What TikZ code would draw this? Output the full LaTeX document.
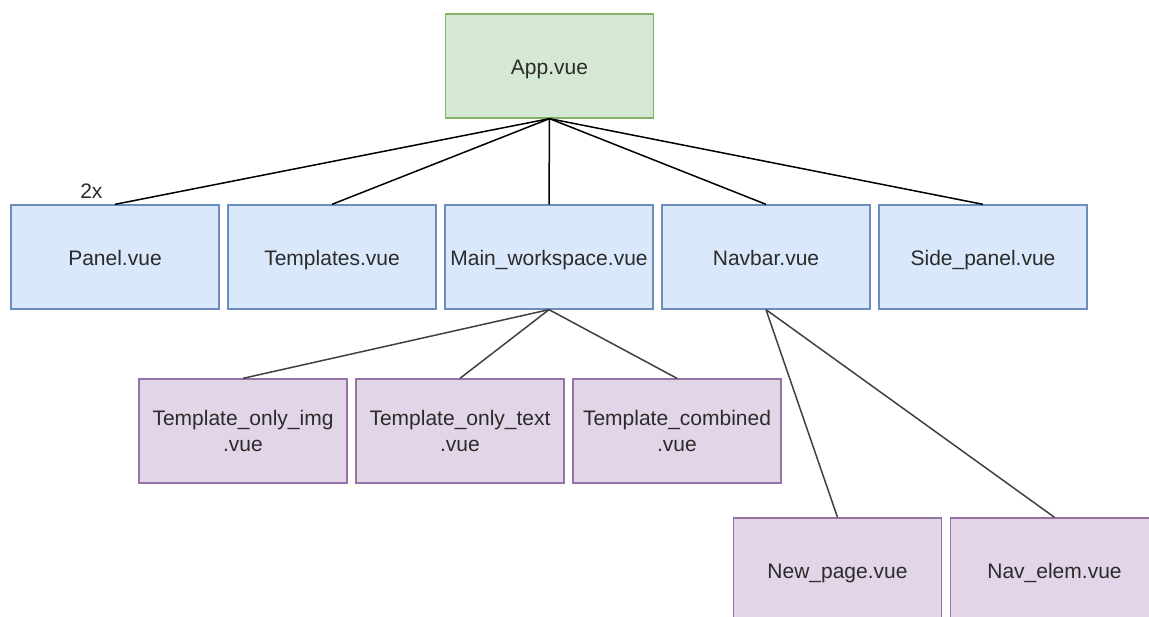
\documentclass[tikz,border=0pt]{standalone}
\usepackage{fontspec}
\setmainfont{Liberation Sans}
\usetikzlibrary{positioning}
\usepackage{xcolor}
\definecolor{appfill}{HTML}{D5E8D4}
\definecolor{appline}{HTML}{82B366}
\definecolor{compfill}{HTML}{DAE8FC}
\definecolor{compline}{HTML}{6C8EBF}
\definecolor{subfill}{HTML}{E1D5E7}
\definecolor{subline}{HTML}{9673A6}
\definecolor{txt}{HTML}{2B2B2B}

\begin{document}
\begin{tikzpicture}[x=1pt, y=-1pt, node distance=217pt,
    box/.style={draw, line width=1.3pt, minimum width=208pt, minimum height=104pt,
        align=center, text=txt, font=\fontsize{21}{26}\selectfont},
    oneline/.style={text height=17pt, text depth=0pt},
    link/.style={line width=1.5pt}]
    \useasboundingbox (0,0) rectangle (1149,617);
    \clip (0,0) rectangle (1149,617);

    \node[box, oneline, fill=appfill, draw=appline] (app) at (549.5,66) {App.vue};

    \node[box, oneline, fill=compfill, draw=compline] (panel) at (115,257) {Panel.vue};
    \node[box, oneline, fill=compfill, draw=compline, right of=panel] (templates) {Templates.vue};
    \node[box, oneline, fill=compfill, draw=compline, right of=templates] (workspace) {Main\_workspace.vue};
    \node[box, oneline, fill=compfill, draw=compline, right of=workspace] (navbar) {Navbar.vue};
    \node[box, oneline, fill=compfill, draw=compline, right of=navbar] (sidepanel) {Side\_panel.vue};

    \node[box, fill=subfill, draw=subline] (onlyimg) at (243,431) {Template\_only\_img\\.vue};
    \node[box, fill=subfill, draw=subline, right of=onlyimg] (onlytext) {Template\_only\_text\\.vue};
    \node[box, fill=subfill, draw=subline, right of=onlytext] (combined) {Template\_combined\\.vue};

    \node[box, oneline, fill=subfill, draw=subline] (newpage) at (837.5,570) {New\_page.vue};
    \node[box, oneline, fill=subfill, draw=subline, right of=newpage] (navelem) {Nav\_elem.vue};

    \node[text=txt, font=\fontsize{21}{24}\selectfont, above=2pt of panel.north west, xshift=81pt] (twice) {2x};

    \draw[link] (app.south) -- (panel.north);
    \draw[link] (app.south) -- (templates.north);
    \draw[link] (app.south) -- (workspace.north);
    \draw[link] (app.south) -- (navbar.north);
    \draw[link] (app.south) -- (sidepanel.north);

    \draw[link, black!75] (workspace.south) -- (onlyimg.north);
    \draw[link, black!75] (workspace.south) -- (onlytext.north);
    \draw[link, black!75] (workspace.south) -- (combined.north);

    \draw[link, black!75] (navbar.south) -- (newpage.north);
    \draw[link, black!75] (navbar.south) -- (navelem.north);
\end{tikzpicture}
\end{document}
